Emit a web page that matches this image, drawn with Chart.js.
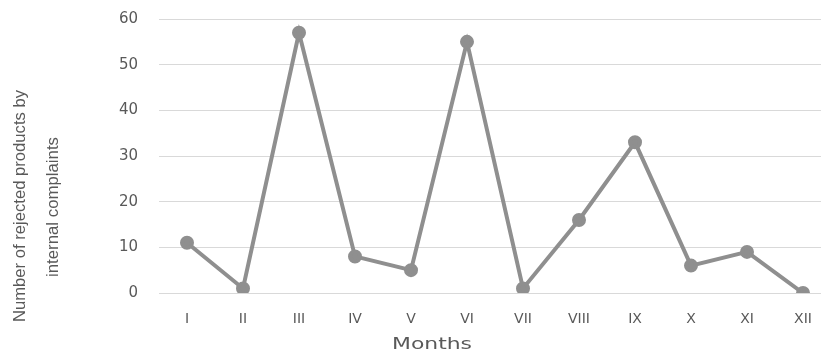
<!DOCTYPE html>
<html>
<head>
<meta charset="utf-8">
<script src="https://cdn.jsdelivr.net/npm/chart.js@4/dist/chart.umd.min.js"></script>
<style>
  html, body { margin: 0; padding: 0; background: #fff; overflow: hidden; }
  #wrap { position: absolute; left: 0; top: -11px; width: 840px; height: 369px; }
</style>
</head>
<body>
<div id="wrap"><canvas id="chart"></canvas></div>
<script>
// Chart data
const months = ['I', 'II', 'III', 'IV', 'V', 'VI', 'VII', 'VIII', 'IX', 'X', 'XI', 'XII'];
const rejected = [11, 1, 57, 8, 5, 55, 1, 16, 33, 6, 9, 0];
const yTitleLines = ['Number of rejected products by', 'internal complaints'];
const xTitle = 'Months';

const grey = '#8f8f8f';
const textGrey = '#595959';
const shift = 11; // canvas is pulled up by this much

// draw a text stretched/squeezed so it spans a given length
function fitText(ctx, text, len) {
    const w = ctx.measureText(text).width;
    ctx.save();
    ctx.scale(len / w, 1);
    ctx.fillText(text, 0, 0);
    ctx.restore();
}

// Axis titles drawn by hand so they sit where the original has them
const axisTitles = {
    id: 'axisTitles',
    afterDraw(chart) {
        const ctx = chart.ctx;
        ctx.save();
        ctx.fillStyle = textGrey;
        ctx.textAlign = 'center';
        ctx.textBaseline = 'middle';
        ctx.font = '17px "Liberation Sans", sans-serif';
        ctx.translate(20, 206 + shift);
        ctx.rotate(-Math.PI / 2);
        fitText(ctx, yTitleLines[0], 232);
        ctx.restore();

        ctx.save();
        ctx.fillStyle = textGrey;
        ctx.textAlign = 'center';
        ctx.textBaseline = 'middle';
        ctx.font = '17px "Liberation Sans", sans-serif';
        ctx.translate(53, 207 + shift);
        ctx.rotate(-Math.PI / 2);
        fitText(ctx, yTitleLines[1], 140);
        ctx.restore();

        ctx.save();
        ctx.fillStyle = textGrey;
        ctx.textAlign = 'center';
        ctx.textBaseline = 'middle';
        ctx.font = '16px "DejaVu Sans", sans-serif';
        ctx.translate(432, 345 + shift);
        fitText(ctx, xTitle, 80);
        ctx.restore();
    }
};

new Chart(document.getElementById('chart'), {
    type: 'line',
    data: {
        labels: months,
        datasets: [{
            data: rejected,
            borderColor: grey,
            backgroundColor: grey,
            borderWidth: 4,
            pointRadius: 5,
            pointHoverRadius: 5,
            tension: 0,
        }],
    },
    options: {
        responsive: true,
        maintainAspectRatio: false,
        animation: false,
        layout: { padding: { top: 0, right: 8, left: 0, bottom: 0 } },
        plugins: {
            legend: { display: false },
            tooltip: { enabled: false },
        },
        scales: {
            x: {
                offset: true,
                grid: { display: false, drawTicks: false },
                border: { display: false },
                ticks: {
                    color: textGrey,
                    padding: 18,
                    font: { family: '"DejaVu Sans", sans-serif', size: 14 },
                    maxRotation: 0,
                },
                afterFit(scale) { scale.height = 65; },
            },
            y: {
                min: 0,
                max: 60,
                grid: { color: '#d9d9d9', lineWidth: 1, drawTicks: false },
                border: { display: false },
                ticks: {
                    stepSize: 10,
                    color: textGrey,
                    padding: 21,
                    font: { family: '"DejaVu Sans", sans-serif', size: 15 },
                },
                afterFit(scale) { scale.width = 159; },
            },
        },
    },
    plugins: [axisTitles],
});
</script>
</body>
</html>
